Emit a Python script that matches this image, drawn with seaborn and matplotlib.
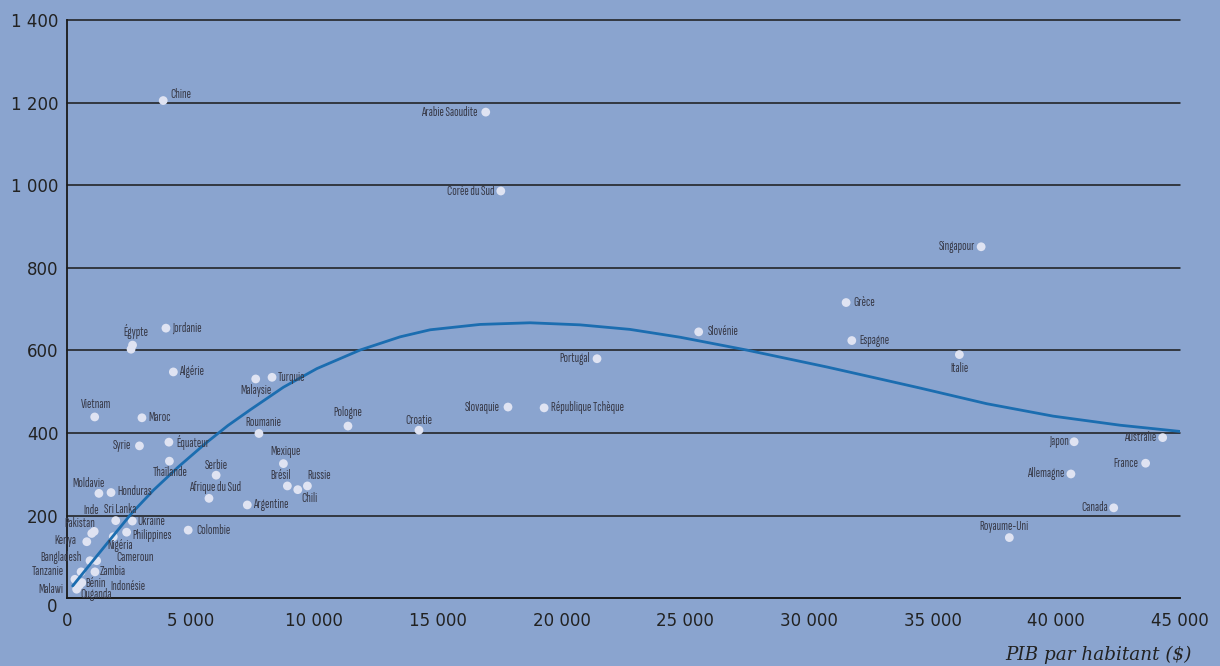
import numpy as np
import pandas as pd
import matplotlib
matplotlib.use("Agg")
import matplotlib.pyplot as plt
from matplotlib.ticker import FuncFormatter
import seaborn as sns

# pays, PIB par habitant ($), valeur y
pays = ["Chine", "Arabie Saoudite", "Corée du Sud", "Singapour", "Grèce", "Espagne",
        "Italie", "Slovénie", "Portugal", "République Tchèque", "Slovaquie", "Croatie",
        "Pologne", "Roumanie", "Malaysie", "Turquie", "Mexique", "Brésil", "Chili",
        "Russie", "Serbie", "Afrique du Sud", "Argentine", "Colombie", "Égypte", "",
        "Jordanie", "Algérie", "Vietnam", "Maroc", "Syrie", "Équateur", "Thaïlande",
        "Moldavie", "Honduras", "Sri Lanka", "Ukraine", "Inde", "Pakistan", "Kenya",
        "Philippines", "Nigéria", "Cameroun", "Bangladesh", "Tanzanie", "Zambia",
        "Malawi", "Bénin", "Ouganda", "Indonésie", "Japon", "Australie", "France",
        "Allemagne", "Canada", "Royaume-Uni"]
pib = [3890, 16930, 17540, 36960, 31500, 31730,
       36080, 25540, 21430, 19290, 17830, 14230,
       11360, 7760, 7630, 8290, 8750, 8910, 9330,
       9720, 6030, 5740, 7290, 4900, 2650, 2590,
       4000, 4300, 1120, 3030, 2930, 4120, 4140,
       1290, 1780, 1970, 2640, 1100, 1000, 800,
       2410, 1870, 1200, 930, 570, 1130,
       320, 500, 390, 600, 40720, 44300, 43610,
       40590, 42320, 38100]
valeur = [1205, 1177, 986, 851, 716, 624,
          590, 645, 580, 461, 463, 407,
          417, 399, 531, 535, 326, 272, 263,
          272, 298, 242, 226, 165, 613, 603,
          654, 548, 439, 437, 369, 378, 332,
          254, 256, 188, 187, 162, 157, 137,
          160, 149, 91, 91, 64, 64,
          46, 32, 22, 38, 379, 389, 327,
          301, 219, 147]

# courbe de tendance
courbe_x = [230, 1200, 2600, 3500, 4500, 5600, 6500, 7400, 8750, 10100, 11850,
            13470, 14680, 16700, 18720, 20740, 22760, 24790, 27480, 30720, 32870,
            34490, 37190, 39870, 42580, 45000]
courbe_y = [30, 102, 205, 262, 318, 375, 418, 456, 511, 556, 601,
            633, 650, 663, 667, 662, 651, 632, 601, 560, 531,
            509, 471, 441, 419, 404]

y_ticks = [0, 200, 400, 600, 800, 1000, 1200, 1400]
x_ticks = [0, 5000, 10000, 15000, 20000, 25000, 30000, 35000, 40000, 45000]

# placement des étiquettes (dx, dy en pixels, alignement)
R = (7, 0, "left")
L = (-7, 0, "right")
place = {
    "Chine": (7, 6, "left"), "Arabie Saoudite": (-8, 0, "right"),
    "Corée du Sud": (-6, 0, "right"), "Singapour": (-6, 0, "right"),
    "Grèce": R, "Espagne": (8, 0, "left"), "Italie": (0, -14, "center"),
    "Slovénie": (9, 0, "left"), "Portugal": L, "République Tchèque": R,
    "Slovaquie": (-8, 0, "right"), "Croatie": (0, 10, "center"),
    "Pologne": (0, 14, "center"), "Roumanie": (4, 11, "center"),
    "Malaysie": (0, -12, "center"), "Turquie": (6, 0, "left"),
    "Mexique": (2, 12, "center"), "Brésil": (-7, 10, "center"),
    "Chili": (12, -9, "center"), "Russie": (12, 10, "center"),
    "Serbie": (0, 10, "center"), "Afrique du Sud": (6, 11, "center"),
    "Argentine": (6, 0, "left"), "Colombie": (8, 0, "left"),
    "Égypte": (3, 14, "center"), "Jordanie": (6, 0, "left"),
    "Algérie": (6, 0, "left"), "Vietnam": (1, 12, "center"),
    "Maroc": (6, 0, "left"), "Syrie": (-8, 0, "right"),
    "Équateur": (7, 0, "left"), "Thaïlande": (1, -11, "center"),
    "Moldavie": (-10, 10, "center"), "Honduras": (6, 1, "left"),
    "Sri Lanka": (4, 11, "center"), "Ukraine": (5, 0, "left"),
    "Inde": (-3, 21, "center"), "Pakistan": (-12, 10, "center"),
    "Kenya": (-10, 1, "right"), "Philippines": (6, -3, "left"),
    "Nigéria": (7, -9, "center"), "Cameroun": (20, 3, "left"),
    "Bangladesh": (-8, 3, "right"), "Tanzanie": (-17, 0, "right"),
    "Zambia": (5, 0, "left"), "Malawi": (-12, -10, "right"),
    "Bénin": (6, 2, "left"), "Ouganda": (4, -5, "left"),
    "Indonésie": (29, -4, "left"), "Japon": (-5, 0, "right"),
    "Australie": (-6, 0, "right"), "France": (-7, 0, "right"),
    "Allemagne": (-7, 0, "right"), "Canada": (-6, 0, "right"),
    "Royaume-Uni": (-5, 11, "center"),
}

fond = "#8aa4cf"
df = pd.DataFrame({"pays": pays, "pib": pib, "valeur": valeur})
tendance = pd.DataFrame({"pib": courbe_x, "valeur": courbe_y})

sns.set_style("white")
fig = plt.figure(figsize=(12.2, 6.66), dpi=100, facecolor=fond)
ax = fig.add_axes([67 / 1220, 1 - 598.3 / 666, (1180 - 67) / 1220, (598.3 - 20) / 666])
ax.set_facecolor(fond)

sns.scatterplot(data=df, x="pib", y="valeur", ax=ax, color="#dfe3f2", s=40,
                edgecolor="none", zorder=3)
sns.lineplot(data=tendance, x="pib", y="valeur", ax=ax, color="#1b6db0", lw=2,
             estimator=None, sort=False, zorder=4)

etiq_font = ["Sofia Sans Extra Condensed", "Roboto Condensed", "DejaVu Sans"]
for p, xv, yv in zip(pays, pib, valeur):
    if not p:
        continue  # second point de l'Égypte, sans étiquette
    dx, dy, ha = place.get(p, R)
    ax.annotate(p, (xv, yv), xytext=(dx, dy), textcoords="offset pixels",
                ha=ha, va="center", fontsize=9.5, color="#383a48",
                family=etiq_font, zorder=5)

ax.set_xlim(0, 45000)
ax.set_ylim(0, 1400)
ax.set_xticks(x_ticks)
ax.set_yticks(y_ticks)
fmt = FuncFormatter(lambda v, pos: f"{v:,.0f}".replace(",", " "))
fmt_y = FuncFormatter(lambda v, pos: "" if v == 0 else f"{v:,.0f}".replace(",", " "))
ax.xaxis.set_major_formatter(fmt)
ax.yaxis.set_major_formatter(fmt_y)
ax.tick_params(axis="x", direction="in", length=14, width=1.3, color="#1a1a1a",
               labelsize=12, labelcolor="#222222", pad=10)
ax.tick_params(axis="y", length=0, labelsize=12, labelcolor="#222222", pad=6)
# le 0 de l'axe y est un peu plus bas que la ligne
ax.annotate("0", (0, 0), xytext=(-10, -9), textcoords="offset pixels", ha="right",
            va="center", fontsize=12, color="#222222", annotation_clip=False)

ax.grid(axis="y", color="#1a1a1a", lw=1.1)
ax.grid(axis="x", visible=False)
for gl in ax.get_ygridlines():
    gl.set_clip_on(False)
ax.set_axisbelow(True)

for s in ["top", "right"]:
    ax.spines[s].set_visible(False)
for s in ["left", "bottom"]:
    ax.spines[s].set_color("#1a1a1a")
    ax.spines[s].set_linewidth(1.3)

ax.set_xlabel("")
ax.set_ylabel("")
fig.text(1192 / 1220, 1 - 655 / 666, "PIB par habitant ($)", ha="right", va="center",
         fontsize=13.2, style="italic", family="DejaVu Serif", color="#222222")

fig.savefig("out.png", dpi=100, facecolor=fond)
